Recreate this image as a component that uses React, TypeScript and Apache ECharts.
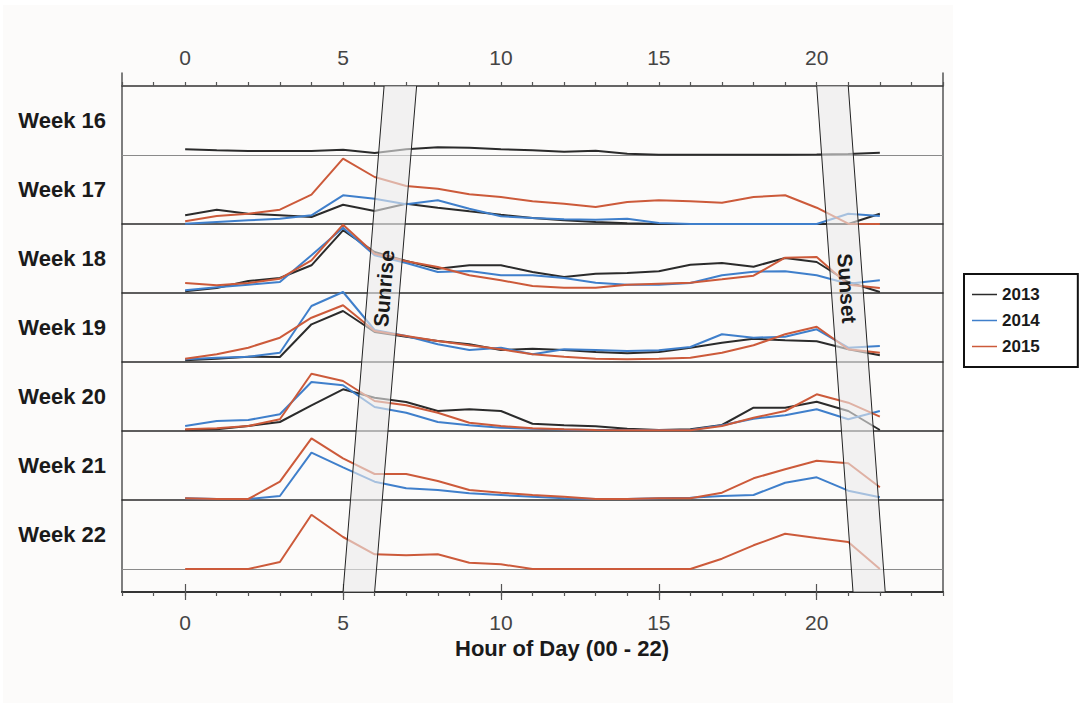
import React, { useEffect, useRef } from "react";
import * as echarts from "echarts";

// ---------- data ----------
const hours = [0, 1, 2, 3, 4, 5, 6, 7, 8, 9, 10, 11, 12, 13, 14, 15, 16, 17, 18, 19, 20, 21, 22];
const hourTicks = [0, 5, 10, 15, 20];
const weekLabels = ["Week 16", "Week 17", "Week 18", "Week 19", "Week 20", "Week 21", "Week 22"];
const years = ["2013", "2014", "2015"];
const yearColors = ["#2b2b2b", "#3f7fcb", "#cc5a3a"];

const w16_2013 = [5.7, 4.7, 4, 4, 4, 5.3, 2, 5.7, 7.7, 7.3, 5.7, 4.7, 3.3, 4.3, 1.3, 0.3, 0.3, 0.3, 0.3, 0.3, 0.5, 1, 2.3];

const w17_2013 = [8.7, 14.3, 10.3, 8.7, 7, 19.3, 13, 20.3, 16.3, 12.7, 9.3, 6, 3.7, 2, 0.7, 0, 0, 0, 0, 0, 0, 0, 10.3];
const w17_2014 = [0.3, 2, 3.7, 5.3, 8.7, 28.7, 25.3, 19.7, 23.7, 15.3, 7.7, 6, 4.7, 4.3, 5.3, 1, 0, 0, 0, 0, 0, 10.3, 8];
const w17_2015 = [2.7, 8, 10.3, 14.3, 29.3, 65.3, 47, 38, 35.3, 29.7, 27, 22.7, 20.3, 17, 22, 23.7, 22.7, 21.3, 27, 28.7, 16.3, 0.3, 0];

const w18_2013 = [1.7, 5, 12, 15, 27.7, 62.7, 41, 32, 24.3, 27.7, 27.7, 21, 16, 19.3, 20, 21.7, 28.3, 30, 26.3, 35, 31, 11, 1];
const w18_2014 = [2.7, 5.7, 8.3, 11, 37.7, 65.3, 37.7, 30, 21, 22, 17.7, 17.7, 15, 10.3, 8.3, 8.3, 10, 17.7, 21.3, 21.7, 17.7, 9.3, 12.7];
const w18_2015 = [10, 7.7, 10, 14.3, 32.7, 68.3, 39.3, 31.7, 26, 17.7, 12.7, 7, 5.3, 5.3, 8.3, 9.3, 10.3, 13.7, 17.3, 35.3, 36, 8.3, 5];

const w19_2013 = [1.7, 3.3, 5.3, 5, 37.7, 51, 30, 25.3, 21, 17.7, 12, 13.3, 12, 10, 8.7, 10, 14.3, 19.3, 23.3, 21.7, 20.7, 12.7, 6.7];
const w19_2014 = [2.7, 4.3, 5.3, 9.3, 56, 70, 32, 26, 17.7, 12, 14.3, 7.7, 12.7, 12, 11, 11.7, 15, 27.7, 24.3, 25.3, 32.7, 14.3, 16];
const w19_2015 = [3.3, 7.7, 14.3, 24.3, 44.3, 56.7, 31, 26, 21, 16.7, 12.7, 7.7, 5.3, 3.3, 2.7, 3.3, 4.3, 9.3, 16.7, 27.7, 35.3, 12.7, 9.3];

const w20_2013 = [1, 1.7, 5, 9, 25.7, 41.7, 33.3, 29, 20, 21.7, 20, 7.3, 5.7, 4.7, 2.3, 1, 1.7, 6, 23.3, 23.3, 29.3, 20, 1];
const w20_2014 = [5, 10, 11, 16.7, 49, 45.7, 24, 18.3, 9, 5.7, 3.3, 2.3, 1.5, 1, 1, 1, 1, 5.7, 12.3, 15.7, 21.7, 11.7, 20];
const w20_2015 = [1.7, 2.7, 5, 11.7, 57.3, 50, 30, 25.7, 18.3, 8.3, 5, 2.7, 1.7, 1, 0.7, 0.7, 0.7, 5, 13.3, 20, 36.7, 28.3, 14.3];

const w21_2014 = [1.7, 1, 1, 4, 47.3, 32.7, 18.3, 11.7, 10, 6.7, 5, 3.3, 1.7, 1, 1, 1.7, 2.3, 4, 5, 17.3, 22.7, 9.3, 2.7];
const w21_2015 = [1.7, 1, 1, 18.3, 61.7, 41.7, 26, 26, 19, 10, 7.3, 5, 3.3, 1, 1, 1.7, 1.7, 7.3, 21.7, 30.7, 39.3, 36.7, 12.7];

const w22_2015 = [0, 0, 0, 7, 54.3, 32, 14.7, 13.7, 14.7, 6.3, 4.7, 0, 0, 0, 0, 0, 0, 10.3, 23.7, 35.3, 31, 27, 0];

// per week: values for [2013, 2014, 2015] (null = no data)
const weekData: (number[] | null)[][] = [
  [w16_2013, null, null],
  [w17_2013, w17_2014, w17_2015],
  [w18_2013, w18_2014, w18_2015],
  [w19_2013, w19_2014, w19_2015],
  [w20_2013, w20_2014, w20_2015],
  [null, w21_2014, w21_2015],
  [null, null, w22_2015],
];

// sunrise / sunset bands: hour at top of plot [left, right], at bottom [left, right]
const bandLabels = ["Sunrise", "Sunset"];
const bandTop = [
  [6.3, 7.33],
  [20.0, 21.0],
];
const bandBottom = [
  [5.0, 6.0],
  [21.15, 22.17],
];
const bandReadUp = [true, false];

// ---------- layout ----------
const FONT = "'Liberation Sans', Arial, Helvetica, sans-serif";
const PLOT_LEFT = 122;
const PLOT_RIGHT = 143;
const PLOT_TOP = 86;
const PANEL_H = 69;
const PLOT_BOTTOM = 111;
const LABEL_SHIFT = [8, 0, 4, 10, 8, 2, 0];

export default function App() {
  const ref = useRef<HTMLDivElement>(null);

  useEffect(() => {
    if (!ref.current) return;
    const chart = echarts.init(ref.current, undefined, { renderer: "svg" });

    const grids: any[] = [];
    const xAxes: any[] = [];
    const yAxes: any[] = [];
    const series: any[] = [];

    // grid 0: frame (vertical side lines)
    grids.push({ left: PLOT_LEFT, right: PLOT_RIGHT, top: 73, bottom: PLOT_BOTTOM });
    xAxes.push({ gridIndex: 0, type: "value", min: 0, max: 1, show: false });
    const frameY = {
      gridIndex: 0,
      type: "value",
      min: 0,
      max: 1,
      axisLine: { show: true, lineStyle: { color: "#555", width: 1.5 } },
      axisTick: { show: false },
      axisLabel: { show: false },
      splitLine: { show: false },
    };
    yAxes.push({ ...frameY, position: "left" });
    yAxes.push({ ...frameY, position: "right" });

    // grid 1: band grid with the hour axes
    grids.push({ left: PLOT_LEFT, right: PLOT_RIGHT, top: PLOT_TOP, bottom: PLOT_BOTTOM });
    const majorAxis = (pos: string, margin: number) => ({
      gridIndex: 1,
      type: "value",
      position: pos,
      min: -2,
      max: 24,
      axisLine: { show: true, lineStyle: { color: "#333", width: 1.6 } },
      axisTick: { show: true, length: 8, customValues: hourTicks, lineStyle: { color: "#555", width: 1.2 } },
      axisLabel: {
        show: true,
        customValues: hourTicks,
        margin,
        fontSize: 21,
        color: "#444",
        fontFamily: FONT,
      },
      splitLine: { show: false },
    });
    const minorAxis = (pos: string) => ({
      gridIndex: 1,
      type: "value",
      position: pos,
      min: -2,
      max: 24,
      interval: 1,
      axisLine: { show: true, lineStyle: { color: "#333", width: 1.6 } },
      axisTick: { show: true, length: 4, lineStyle: { color: "#555", width: 1.2 } },
      axisLabel: { show: false },
      splitLine: { show: false },
    });
    xAxes.push(majorAxis("top", 18)); // 1
    xAxes.push(minorAxis("top")); // 2
    xAxes.push({
      ...majorAxis("bottom", 20),
      name: "Hour of Day (00 - 22)",
      nameLocation: "middle",
      nameGap: 45,
      nameTextStyle: {
        fontSize: 22,
        fontWeight: "bold",
        color: "#1a1a1a",
        fontFamily: FONT,
        padding: [0, 0, 0, 59],
      },
    }); // 3
    xAxes.push(minorAxis("bottom")); // 4
    yAxes.push({ gridIndex: 1, type: "value", min: 0, max: 1, show: false }); // 2

    series.push({
      type: "custom",
      name: "bands",
      xAxisIndex: 1,
      yAxisIndex: 2,
      z: 10,
      silent: true,
      clip: false,
      data: bandTop.map((t, i) => [t[0], t[1], bandBottom[i][0], bandBottom[i][1], i]),
      encode: { x: [0, 1, 2, 3], y: -1 },
      renderItem: (params: any, api: any) => {
        const idx = api.value(4);
        const tl = api.coord([api.value(0), 1]);
        const tr = api.coord([api.value(1), 1]);
        const bl = api.coord([api.value(2), 0]);
        const br = api.coord([api.value(3), 0]);
        const f = 0.6;
        const topMid = (api.value(0) + api.value(1)) / 2;
        const botMid = (api.value(2) + api.value(3)) / 2;
        const c = api.coord([botMid + f * (topMid - botMid), f]);
        const pTop = api.coord([topMid, 1]);
        const pBot = api.coord([botMid, 0]);
        let rot;
        if (bandReadUp[idx]) {
          rot = Math.atan2(-(pTop[1] - pBot[1]), pTop[0] - pBot[0]);
        } else {
          rot = Math.atan2(-(pBot[1] - pTop[1]), pBot[0] - pTop[0]);
        }
        return {
          type: "group",
          children: [
            {
              type: "polygon",
              shape: { points: [tl, tr, br, bl] },
              style: { fill: "rgba(235,235,235,0.6)", stroke: "none" },
            },
            {
              type: "line",
              shape: { x1: tl[0], y1: tl[1], x2: bl[0], y2: bl[1] },
              style: { stroke: "#222", lineWidth: 1 },
            },
            {
              type: "line",
              shape: { x1: tr[0], y1: tr[1], x2: br[0], y2: br[1] },
              style: { stroke: "#222", lineWidth: 1 },
            },
            {
              type: "text",
              x: c[0],
              y: c[1],
              rotation: rot,
              style: {
                text: bandLabels[idx],
                fontSize: 21,
                fontWeight: "bold",
                fontFamily: FONT,
                fill: "#1a1a1a",
                align: "center",
                verticalAlign: "middle",
              },
            },
          ],
        };
      },
    });

    // panel grids
    weekLabels.forEach((label, i) => {
      const gi = grids.length;
      grids.push({ left: PLOT_LEFT, right: PLOT_RIGHT, top: PLOT_TOP + PANEL_H * i, height: PANEL_H });
      const edge = i === 0 || i === weekLabels.length - 1;
      const xi = xAxes.length;
      xAxes.push({
        gridIndex: gi,
        type: "value",
        position: "bottom",
        min: -2,
        max: 24,
        axisLine: { show: true, lineStyle: { color: edge ? "#8a8a8a" : "#2a2a2a", width: edge ? 1.2 : 1.5 } },
        axisTick: { show: false },
        axisLabel: { show: false },
        splitLine: { show: false },
      });
      const yi = yAxes.length;
      yAxes.push({
        gridIndex: gi,
        type: "value",
        min: 0,
        max: PANEL_H,
        axisLine: { show: false },
        axisTick: { show: false },
        axisLabel: { show: false },
        splitLine: { show: false },
        name: label,
        nameLocation: "middle",
        nameRotate: 0,
        nameGap: 16,
        nameTextStyle: {
          fontSize: 22,
          fontWeight: "bold",
          color: "#1a1a1a",
          fontFamily: FONT,
          padding: [LABEL_SHIFT[i], 0, 0, 0],
        },
      });
      weekData[i].forEach((vals, k) => {
        if (!vals) return;
        series.push({
          type: "line",
          name: years[k],
          xAxisIndex: xi,
          yAxisIndex: yi,
          data: hours.map((h, j) => [h, vals[j]]),
          showSymbol: false,
          symbol: "none",
          clip: false,
          z: 2 + k,
          lineStyle: { color: yearColors[k], width: 2 },
          itemStyle: { color: yearColors[k] },
        });
      });
    });

    chart.setOption({
      animation: false,
      backgroundColor: "#ffffff",
      graphic: [
        {
          type: "rect",
          z: -10,
          silent: true,
          shape: { x: 3, y: 5, width: 950, height: 698 },
          style: { fill: "#fcfbfa" },
        },
      ],
      legend: {
        data: years,
        orient: "vertical",
        left: 964,
        top: 274,
        icon: "rect",
        itemWidth: 25,
        itemHeight: 1.5,
        itemGap: 9,
        itemTextGap: 8,
        padding: [12, 38, 12, 8],
        borderColor: "#111",
        borderWidth: 2,
        backgroundColor: "#ffffff",
        selectedMode: false,
        textStyle: { fontSize: 17, fontWeight: "bold", color: "#1a1a1a", fontFamily: FONT },
      },
      grid: grids,
      xAxis: xAxes,
      yAxis: yAxes,
      series,
    });

    return () => chart.dispose();
  }, []);

  return (
    <div
      ref={ref}
      style={{ position: "absolute", left: 0, top: 0, width: 1086, height: 703 }}
    />
  );
}
